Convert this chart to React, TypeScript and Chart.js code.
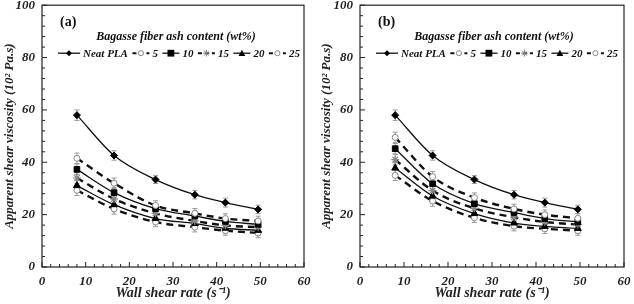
import React, { useEffect, useRef } from 'react';
import { Chart, registerables } from 'chart.js';
Chart.register(...registerables);

// ---------- data ----------
const shearRate = [8, 16.5, 26, 35, 42, 49.5];
const seriesLabels = ['Neat PLA', '5', '10', '15', '20', '25'];
const xTickValues = [0, 10, 20, 30, 40, 50, 60];
const yTickValues = [0, 20, 40, 60, 80, 100];

const neatPLA = [58, 42.6, 33.4, 27.6, 24.6, 22];
const a5 = [41.5, 32, 23.5, 20.5, 18.5, 17.6];
const a10 = [37.3, 28.4, 22.3, 19.5, 17.4, 16.3];
const a15 = [34, 26, 20.5, 17.6, 15.9, 15.2];
const a20 = [31.1, 23.8, 18.5, 16.6, 14.8, 14];
const a25 = [29.3, 22.2, 17.2, 15.2, 13.9, 13];

const b5 = [49.5, 34.5, 26.5, 22.2, 20, 18.6];
const b10 = [45.2, 31.8, 24.2, 20.8, 18.5, 17.2];
const b15 = [41, 29.2, 22.4, 19, 17.2, 16.2];
const b20 = [37.8, 27.1, 20.4, 16.8, 15.5, 14.7];
const b25 = [35, 25.2, 18.8, 15.6, 14.6, 13.9];

const errNeat = [2, 1.8, 1.5, 1.6, 1.7, 1.6];
const errFill = [2, 2, 1.8, 1.8, 1.8, 1.8];

const legendTitle = 'Bagasse fiber ash content (wt%)';
const xTitle = 'Wall shear rate (s\u207B\u00B9)';
const yTitle = 'Apparent shear viscosity (10\u00B2 Pa.s)';

// ---------- styles ----------
const styles = [
  { dash: [], width: 1.3, ps: 'rectRot', r: 3.5, bg: '#000', bd: '#000' },
  { dash: [7, 5], width: 2.4, ps: 'circle', r: 3, bg: '#fff', bd: '#888' },
  { dash: [], width: 1.3, ps: 'rect', r: 4, bg: '#000', bd: '#000' },
  { dash: [7, 5], width: 2.4, ps: 'star', r: 4, bg: '#888', bd: '#888' },
  { dash: [], width: 1.3, ps: 'triangle', r: 4, bg: '#000', bd: '#000' },
  { dash: [7, 5], width: 2.4, ps: 'circle', r: 3, bg: '#fff', bd: '#888' },
];

const FONT = "'Liberation Serif', 'Times New Roman', serif";

function drawMarker(ctx: CanvasRenderingContext2D, st: any, x: number, y: number, r: number) {
  ctx.save();
  ctx.setLineDash([]);
  ctx.fillStyle = st.bg;
  ctx.strokeStyle = st.bd;
  ctx.lineWidth = 1;
  ctx.beginPath();
  if (st.ps === 'circle') {
    ctx.arc(x, y, r, 0, Math.PI * 2);
    ctx.fill();
    ctx.stroke();
  } else if (st.ps === 'rect') {
    ctx.rect(x - r, y - r, 2 * r, 2 * r);
    ctx.fill();
  } else if (st.ps === 'rectRot') {
    ctx.moveTo(x, y - r);
    ctx.lineTo(x + r, y);
    ctx.lineTo(x, y + r);
    ctx.lineTo(x - r, y);
    ctx.closePath();
    ctx.fill();
  } else if (st.ps === 'triangle') {
    ctx.moveTo(x, y - r);
    ctx.lineTo(x + r, y + r * 0.8);
    ctx.lineTo(x - r, y + r * 0.8);
    ctx.closePath();
    ctx.fill();
  } else if (st.ps === 'star') {
    for (let k = 0; k < 4; k++) {
      const a = (k * Math.PI) / 4;
      ctx.moveTo(x - Math.cos(a) * r, y - Math.sin(a) * r);
      ctx.lineTo(x + Math.cos(a) * r, y + Math.sin(a) * r);
    }
    ctx.stroke();
  }
  ctx.restore();
}

const framePlugin = {
  id: 'frame',
  afterDraw(chart: any) {
    const { ctx, chartArea: ca, scales } = chart;
    ctx.save();
    ctx.strokeStyle = '#222';
    ctx.lineWidth = 1.2;
    ctx.setLineDash([]);
    ctx.strokeRect(ca.left, ca.top, ca.right - ca.left, ca.bottom - ca.top);
    ctx.lineWidth = 1;
    const xs = scales.x;
    for (let v = 0; v <= 60 + 1e-6; v += 2) {
      const px = xs.getPixelForValue(v);
      const len = v % 10 === 0 ? 5 : 3;
      ctx.beginPath();
      ctx.moveTo(px, ca.bottom);
      ctx.lineTo(px, ca.bottom - len);
      ctx.stroke();
    }
    const ys = scales.y;
    for (let v = 0; v <= 100 + 1e-6; v += 4) {
      const py = ys.getPixelForValue(v);
      const len = v % 20 === 0 ? 5 : 3;
      ctx.beginPath();
      ctx.moveTo(ca.left, py);
      ctx.lineTo(ca.left + len, py);
      ctx.stroke();
    }
    ctx.restore();
  },
};

const errorPlugin = {
  id: 'errbars',
  beforeDatasetsDraw(chart: any) {
    const { ctx, scales } = chart;
    ctx.save();
    ctx.strokeStyle = '#999';
    ctx.lineWidth = 1;
    ctx.setLineDash([]);
    chart.data.datasets.forEach((ds: any) => {
      ds.data.forEach((p: any, i: number) => {
        const e = ds.errors[i];
        const px = scales.x.getPixelForValue(p.x);
        const y1 = scales.y.getPixelForValue(p.y - e);
        const y2 = scales.y.getPixelForValue(p.y + e);
        ctx.beginPath();
        ctx.moveTo(px, y1);
        ctx.lineTo(px, y2);
        ctx.moveTo(px - 2.5, y1);
        ctx.lineTo(px + 2.5, y1);
        ctx.moveTo(px - 2.5, y2);
        ctx.lineTo(px + 2.5, y2);
        ctx.stroke();
      });
    });
    ctx.restore();
  },
};

const legendPlugin = {
  id: 'customLegend',
  afterDraw(chart: any) {
    const { ctx, chartArea: ca } = chart;
    const panel = chart.options.plugins.customLegend.panel;
    ctx.save();
    ctx.fillStyle = '#111';
    ctx.textBaseline = 'middle';
    ctx.font = `bold 14px ${FONT}`;
    ctx.textAlign = 'left';
    ctx.fillText(panel, ca.left + 18, ca.top + 17);
    ctx.font = `bold italic 12px ${FONT}`;
    ctx.textAlign = 'center';
    ctx.fillText(legendTitle, ca.left + 134, ca.top + 32);
    ctx.font = `bold italic 11px ${FONT}`;
    ctx.textAlign = 'left';
    let x = ca.left + 16;
    const y = ca.top + 48;
    chart.data.datasets.forEach((ds: any, i: number) => {
      const st = styles[i];
      const segLen = i === 0 ? 22 : 17;
      ctx.strokeStyle = '#111';
      ctx.lineWidth = st.dash.length ? 2 : 1.3;
      ctx.setLineDash(st.dash.length ? [4, 3] : []);
      ctx.beginPath();
      ctx.moveTo(x, y);
      ctx.lineTo(x + segLen, y);
      ctx.stroke();
      ctx.setLineDash([]);
      drawMarker(ctx, st, x + segLen / 2, y, st.r * 0.85);
      x += segLen + 3;
      ctx.fillStyle = '#111';
      ctx.fillText(ds.label, x, y + 1);
      x += ctx.measureText(ds.label).width + 4.5;
    });
    ctx.restore();
  },
};

function Panel({ series, panel, yWidth, padRight }: any) {
  const ref = useRef<HTMLCanvasElement>(null);
  useEffect(() => {
    if (!ref.current) return;
    const datasets = series.map((vals: number[], i: number) => {
      const st = styles[i];
      return {
        label: seriesLabels[i],
        data: shearRate.map((x, j) => ({ x, y: vals[j] })),
        errors: i === 0 ? errNeat : errFill,
        borderColor: '#111',
        borderWidth: st.width,
        borderDash: st.dash,
        pointStyle: st.ps,
        pointRadius: st.r,
        pointBackgroundColor: st.bg,
        pointBorderColor: st.bd,
        pointBorderWidth: st.ps === 'star' ? 1.2 : 1,
        cubicInterpolationMode: 'monotone',
        fill: false,
      };
    });
    const tickFont = { family: FONT, size: 13, style: 'italic', weight: 'bold' };
    const chart = new Chart(ref.current, {
      type: 'line',
      data: { datasets },
      plugins: [errorPlugin, framePlugin, legendPlugin],
      options: {
        animation: false,
        responsive: false,
        layout: { padding: { top: 5, right: padRight, left: 0, bottom: 0 } },
        plugins: {
          legend: { display: false },
          tooltip: { enabled: false },
          customLegend: { panel },
        } as any,
        scales: {
          x: {
            type: 'linear',
            min: 0,
            max: 60,
            afterBuildTicks: (s: any) => { s.ticks = xTickValues.map((v) => ({ value: v })); },
            afterFit: (s: any) => { s.height = 37; s.paddingLeft = 0; s.paddingRight = 0; },
            grid: { display: false, drawTicks: false },
            border: { display: false },
            ticks: { font: tickFont, color: '#222', padding: 7, maxRotation: 0 },
            title: {
              display: true,
              text: xTitle,
              font: { family: FONT, size: 14, style: 'italic', weight: 'bold' },
              color: '#222',
              padding: { top: 0, bottom: 2 },
            },
          },
          y: {
            type: 'linear',
            min: 0,
            max: 100,
            afterBuildTicks: (s: any) => { s.ticks = yTickValues.map((v) => ({ value: v })); },
            afterFit: (s: any) => { s.width = yWidth; s.paddingTop = 0; s.paddingBottom = 0; },
            grid: { display: false, drawTicks: false },
            border: { display: false },
            ticks: { font: tickFont, color: '#222', padding: 7 },
            title: {
              display: true,
              text: yTitle,
              font: { family: FONT, size: 13, style: 'italic', weight: 'bold' },
              color: '#222',
              padding: { top: 2, bottom: 0 },
            },
          },
        },
      } as any,
    });
    return () => chart.destroy();
  }, []);
  return <canvas ref={ref} width={317} height={304} style={{ display: 'block' }} />;
}

export default function App() {
  return (
    <div style={{ position: 'absolute', left: 0, top: 0, width: 634, height: 304, display: 'flex', background: '#fff' }}>
      <Panel series={[neatPLA, a5, a10, a15, a20, a25]} panel="(a)" yWidth={42} padRight={13} />
      <Panel series={[neatPLA, b5, b10, b15, b20, b25]} panel="(b)" yWidth={43} padRight={10} />
    </div>
  );
}
